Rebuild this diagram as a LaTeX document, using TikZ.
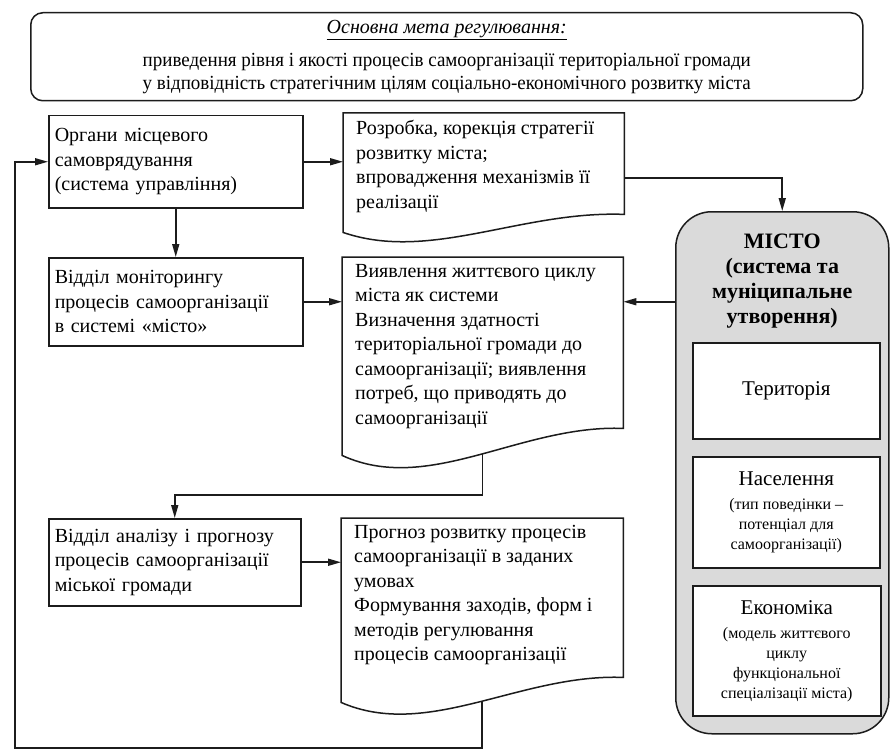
\documentclass[tikz,border=0pt]{standalone}
\usepackage{fontspec}
\setmainfont{Liberation Serif}
\newfontfamily\narrowserif[FakeStretch=0.95]{Liberation Serif}
\usepackage{xcolor}
\usetikzlibrary{calc,arrows.meta,positioning}
\definecolor{ink}{HTML}{1C1C1C}
\definecolor{shade}{HTML}{DADADA}
\newcommand\boxfont{\fontsize{20}{24.5}\selectfont}
\newcommand\bigfont{\fontsize{21}{25}\selectfont}
\newcommand\titlefont{\fontsize{22}{25}\selectfont}
\newcommand\smallfont{\fontsize{16}{20}\selectfont}
\tikzset{
  frame/.style={draw=ink, line width=1.5pt},
  block/.style={frame, rectangle, anchor=north west, align=left, inner xsep=6pt, font=\boxfont},
  doc/.style={rectangle, anchor=north west, inner xsep=13pt, inner ysep=7pt, font=\boxfont},
  part/.style={frame, fill=white, rectangle, anchor=north west, align=center, inner sep=0pt, font=\smallfont},
  goalbox/.style={frame, rounded corners=12pt, anchor=north west, align=center, inner sep=0pt, font=\narrowserif\fontsize{20}{23}\selectfont},
  citybox/.style={frame, fill=shade, rounded corners=36pt, anchor=north west, inner sep=0pt},
  arr/.style={draw=ink, line width=1.6pt, -{Triangle[length=13pt,width=7pt]}},
}
% document outline round a doc node: #2 = rise of the right end, #3 = dip on the left
\newcommand\docedge[3]{%
  \draw[frame] (#1.north west) -- (#1.north east) -- ([yshift=#2]#1.south east)
    .. controls ([xshift=-103pt,yshift=#2+4pt]#1.south east) and ([xshift=87pt,yshift=-#3]#1.south west)
    .. (#1.south west) coordinate[pos=0.48] (#1-out) -- cycle;}

\begin{document}
\begin{tikzpicture}[x=1pt,y=-1pt]
  \path[use as bounding box, fill=white] (0,0) rectangle (891,749);

  \node[goalbox, minimum width=832pt, minimum height=88pt] (goal) at (30,12)
    {{\rmfamily\underline{\textit{Основна мета регулювання:}}}\\[10pt]
     приведення рівня і якості процесів самоорганізації територіальної громади\\
     у відповідність стратегічним цілям соціально-економічного розвитку міста};

  % left column
  \node[block, text width=242pt, minimum height=92pt] (org) at (48,115)
    {Органи місцевого\\самоврядування\\(система управління)};
  \node[block, text width=242pt, minimum height=88pt] (mon) at (48,257)
    {Відділ моніторингу\\процесів самоорганізації\\в системі «місто»};
  \node[block, text width=240pt, minimum height=87pt] (anal) at (48,518)
    {Відділ аналізу і прогнозу\\процесів самоорганізації\\міської громади};

  % middle column
  \node[doc] (strat) at (343,113) {\parbox[b][105pt][t]{255pt}{\raggedright
    Розробка, корекція стратегії\\розвитку міста;\\впровадження механізмів її\\реалізації}};
  \node[doc] (diag) at (342,257) {\parbox[b][184pt][t]{255pt}{\raggedright
    Виявлення життєвого циклу\\міста як системи\\Визначення здатності\\територіальної громади до\\самоорганізації; виявлення\\потреб, що приводять до\\самоорганізації}};
  \node[doc] (fore) at (341,518) {\parbox[b][170pt][t]{256pt}{\raggedright
    Прогноз розвитку процесів\\самоорганізації в заданих\\умовах\\Формування заходів, форм і\\методів регулювання\\процесів самоорганізації}};
  \docedge{strat}{18pt}{30pt}
  \docedge{diag}{27pt}{40pt}
  \docedge{fore}{25pt}{38pt}

  % city
  \node[citybox, minimum width=213pt, minimum height=522pt] (city) at (675,211) {};
  \node[font=\bfseries\titlefont, align=center, inner sep=0pt, below=23pt of city.north] (cityname)
    {МІСТО\\(система та\\муніципальне\\утворення)};
  \node[part, minimum width=187pt, minimum height=96pt, font=\bigfont] (terr) at (692,342) {Територія};
  \node[part, minimum width=187pt, minimum height=111pt] (popl) at (692,456)
    {{\bigfont Населення}\\[4pt](тип поведінки –\\потенціал для\\самоорганізації)};
  \node[part, minimum width=188pt, minimum height=130pt] (econ) at (692,585)
    {{\bigfont Економіка}\\[4pt](модель життєвого\\циклу\\функціональної\\спеціалізації міста)};

  % connectors
  \draw[arr] (org.east) -- (org.east -| strat.west);
  \draw[arr] (org.south) -- (mon.north);
  \draw[arr] (mon.east) -- (mon.east -| diag.west);
  \draw[arr] (city.west |- mon.east) -- (diag.east |- mon.east);
  \draw[arr] ([yshift=-5pt]strat.east) -| (city.north);
  \draw[arr] (diag-out) -- (diag-out |- 0,495) -| (anal.north);
  \draw[arr] (anal.east) -- (anal.east -| fore.west);
  \draw[arr] (fore-out) -- (fore-out |- 0,748) -| ([xshift=-33pt]org.west) -- (org.west);
\end{tikzpicture}
\end{document}
